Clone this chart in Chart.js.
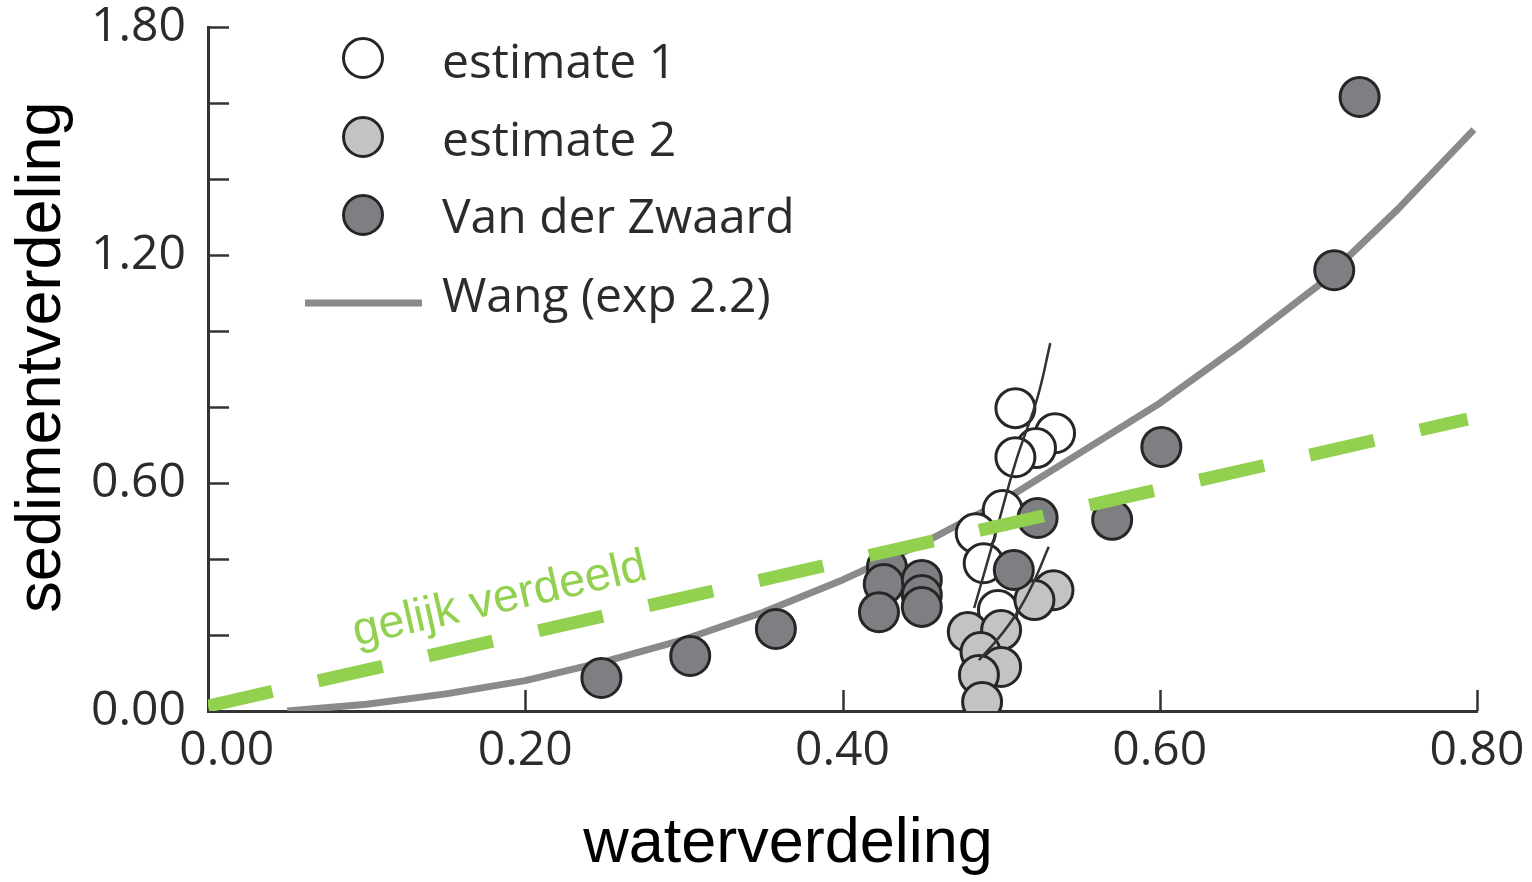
<!DOCTYPE html>
<html>
<head>
<meta charset="utf-8">
<script src="https://cdn.jsdelivr.net/npm/chart.js@4.4.0/dist/chart.umd.min.js"></script>
<style>
    html, body { margin: 0; padding: 0; background: #fff; }
</style>
</head>
<body>
<canvas id="myChart" width="1532" height="882"></canvas>
<script>
//DATA
const estimate1X = [0.509, 0.534, 0.522, 0.509, 0.501, 0.484, 0.489, 0.498];
const estimate1Y = [0.797, 0.731, 0.692, 0.668, 0.529, 0.468, 0.389, 0.266];

const estimate2X = [0.533, 0.521, 0.479, 0.500, 0.487, 0.500, 0.486, 0.488];
const estimate2Y = [0.318, 0.292, 0.208, 0.213, 0.155, 0.116, 0.095, 0.024];

const zwaardX = [0.248, 0.304, 0.358, 0.428, 0.426, 0.423, 0.450, 0.450, 0.450, 0.508, 0.523, 0.570, 0.601, 0.710, 0.726];
const zwaardY = [0.087, 0.145, 0.216, 0.379, 0.334, 0.260, 0.345, 0.305, 0.274, 0.371, 0.508, 0.503, 0.695, 1.160, 1.616];

const wangX = [0.05, 0.10, 0.15, 0.20, 0.25, 0.30, 0.35, 0.40, 0.45, 0.50, 0.55, 0.60, 0.65, 0.70, 0.75, 0.798];
const wangY = [0.00, 0.018, 0.045, 0.08, 0.13, 0.188, 0.26, 0.345, 0.44, 0.55, 0.68, 0.81, 0.96, 1.12, 1.32, 1.53];

const fit1X = [0.483, 0.496, 0.509, 0.523, 0.531];
const fit1Y = [0.271, 0.46, 0.653, 0.826, 0.968];
const fit2X = [0.486, 0.498, 0.510, 0.520, 0.530];
const fit2Y = [0.134, 0.19, 0.258, 0.335, 0.432];

const equalX = [0, 0.794];
const equalY = [0.013, 0.768];

const xTickValues = [0.2, 0.4, 0.6, 0.8];
const yTickValues = [0.2, 0.4, 0.6, 0.8, 1.0, 1.2, 1.4, 1.6, 1.8];

const toPoints = (xs, ys) => xs.map((v, i) => ({ x: v, y: ys[i] }));

const tickFont = '"Open Sans", "Noto Sans", sans-serif';
const titleFont = '"Liberation Sans", Arial, sans-serif';


//INNER TICK MARKS
const innerTicks = {
    id: 'innerTicks',
    beforeDatasetsDraw(chart) {
        const { ctx, scales: { x, y } } = chart;
        ctx.save();
        ctx.strokeStyle = '#333';
        ctx.lineWidth = 2.5;
        yTickValues.forEach(v => {
            const py = Math.round(y.getPixelForValue(v)) + 0.5;
            ctx.beginPath();
            ctx.moveTo(x.left, py);
            ctx.lineTo(x.left + 21, py);
            ctx.stroke();
        });
        xTickValues.forEach(v => {
            const px = Math.round(x.getPixelForValue(v)) + 0.5;
            ctx.beginPath();
            ctx.moveTo(px, y.bottom);
            ctx.lineTo(px, y.bottom - 21);
            ctx.stroke();
        });
        ctx.restore();
    }
};


//LABEL ON THE EQUAL LINE + LEGEND + AXIS TITLES
const extras = {
    id: 'extras',
    afterDraw(chart) {
        const { ctx, scales: { x, y } } = chart;
        ctx.save();

        // gelijk verdeeld
        const angle = Math.atan2(
            y.getPixelForValue(equalY[1]) - y.getPixelForValue(equalY[0]),
            x.getPixelForValue(equalX[1]) - x.getPixelForValue(equalX[0])
        );
        ctx.save();
        ctx.translate(x.getPixelForValue(0.0934), y.getPixelForValue(0.172));
        ctx.rotate(angle);
        ctx.font = '47px ' + titleFont;
        ctx.fillStyle = '#92d050';
        ctx.textAlign = 'left';
        ctx.textBaseline = 'alphabetic';
        ctx.fillText('gelijk verdeeld', 0, 0);
        ctx.restore();

        // legend
        const order = [1, 2, 3, 5];
        const markerY = [58, 137, 215, 303];
        const textY = [78, 156, 233, 312];
        ctx.font = '48px ' + tickFont;
        ctx.textAlign = 'left';
        ctx.textBaseline = 'alphabetic';
        order.forEach((idx, i) => {
            const ds = chart.data.datasets[idx];
            if (ds.showLine) {
                ctx.strokeStyle = ds.borderColor;
                ctx.lineWidth = ds.borderWidth;
                ctx.beginPath();
                ctx.moveTo(305, markerY[i]);
                ctx.lineTo(422, markerY[i]);
                ctx.stroke();
            } else {
                ctx.beginPath();
                ctx.arc(363, markerY[i], 19.5, 0, Math.PI * 2);
                ctx.fillStyle = ds.backgroundColor;
                ctx.fill();
                ctx.lineWidth = ds.borderWidth;
                ctx.strokeStyle = ds.borderColor;
                ctx.stroke();
            }
            ctx.fillStyle = '#2b2b2b';
            ctx.fillText(ds.label, 442, textY[i]);
        });

        // axis titles
        ctx.fillStyle = '#000';
        ctx.font = '63px ' + titleFont;
        ctx.textAlign = 'center';
        ctx.fillText('waterverdeling', 788, 862);
        ctx.translate(60, 357);
        ctx.rotate(-Math.PI / 2);
        ctx.fillText('sedimentverdeling', 0, 0);

        ctx.restore();
    }
};


const ctx = document.getElementById('myChart');

new Chart(ctx, {
    type: 'scatter',
    data: {
        datasets: [
            {
                label: 'gelijk verdeeld',
                data: toPoints(equalX, equalY),
                showLine: true,
                borderColor: '#92d050',
                borderWidth: 13,
                borderDash: [66, 47],
                borderCapStyle: 'butt',
                pointRadius: 0,
                order: 0
            },
            {
                label: 'estimate 1',
                data: toPoints(estimate1X, estimate1Y),
                backgroundColor: '#ffffff',
                borderColor: '#262626',
                borderWidth: 3,
                pointRadius: 19.5,
                order: 4
            },
            {
                label: 'estimate 2',
                data: toPoints(estimate2X, estimate2Y),
                backgroundColor: '#c3c3c3',
                borderColor: '#262626',
                borderWidth: 3,
                pointRadius: 19.5,
                order: 3
            },
            {
                label: 'Van der Zwaard',
                data: toPoints(zwaardX, zwaardY),
                backgroundColor: '#7e7f83',
                borderColor: '#262626',
                borderWidth: 3,
                pointRadius: 19.5,
                order: 2
            },
            {
                label: 'fit 1',
                data: toPoints(fit1X, fit1Y),
                showLine: true,
                borderColor: '#333',
                borderWidth: 2.5,
                tension: 0.4,
                pointRadius: 0,
                order: 1
            },
            {
                label: 'Wang (exp 2.2)',
                data: toPoints(wangX, wangY),
                showLine: true,
                borderColor: '#8a8a8a',
                borderWidth: 7,
                borderJoinStyle: 'round',
                tension: 0,
                pointRadius: 0,
                order: 5
            },
            {
                label: 'fit 2',
                data: toPoints(fit2X, fit2Y),
                showLine: true,
                borderColor: '#333',
                borderWidth: 2.5,
                tension: 0.4,
                pointRadius: 0,
                order: 1
            }
        ]
    },
    options: {
        responsive: false,
        animation: false,
        events: [],
        layout: { padding: { top: 27, right: 55, left: 0, bottom: 0 } },
        plugins: {
            legend: { display: false },
            tooltip: { enabled: false }
        },
        scales: {
            x: {
                type: 'linear',
                min: 0,
                max: 0.8,
                grid: { display: false, drawTicks: false },
                border: { display: true, color: '#333', width: 3 },
                ticks: {
                    stepSize: 0.2,
                    padding: 12,
                    color: '#2b2b2b',
                    font: { family: tickFont, size: 48 },
                    callback: (v) => (Math.abs(v) < 1e-9 ? '   ' : '') + Number(v).toFixed(2)
                },
                afterFit: (scale) => {
                    scale.height = 171;
                    scale.paddingLeft = 0;
                    scale.paddingRight = 0;
                }
            },
            y: {
                type: 'linear',
                min: 0,
                max: 1.8,
                grid: { display: false, drawTicks: false },
                border: { display: true, color: '#333', width: 3 },
                ticks: {
                    stepSize: 0.6,
                    padding: 22,
                    color: '#2b2b2b',
                    font: { family: tickFont, size: 48 },
                    callback: (v) => Number(v).toFixed(2)
                },
                afterFit: (scale) => {
                    scale.width = 208;
                    scale.paddingTop = 0;
                    scale.paddingBottom = 0;
                }
            }
        }
    },
    plugins: [innerTicks, extras]
});
</script>
</body>
</html>
